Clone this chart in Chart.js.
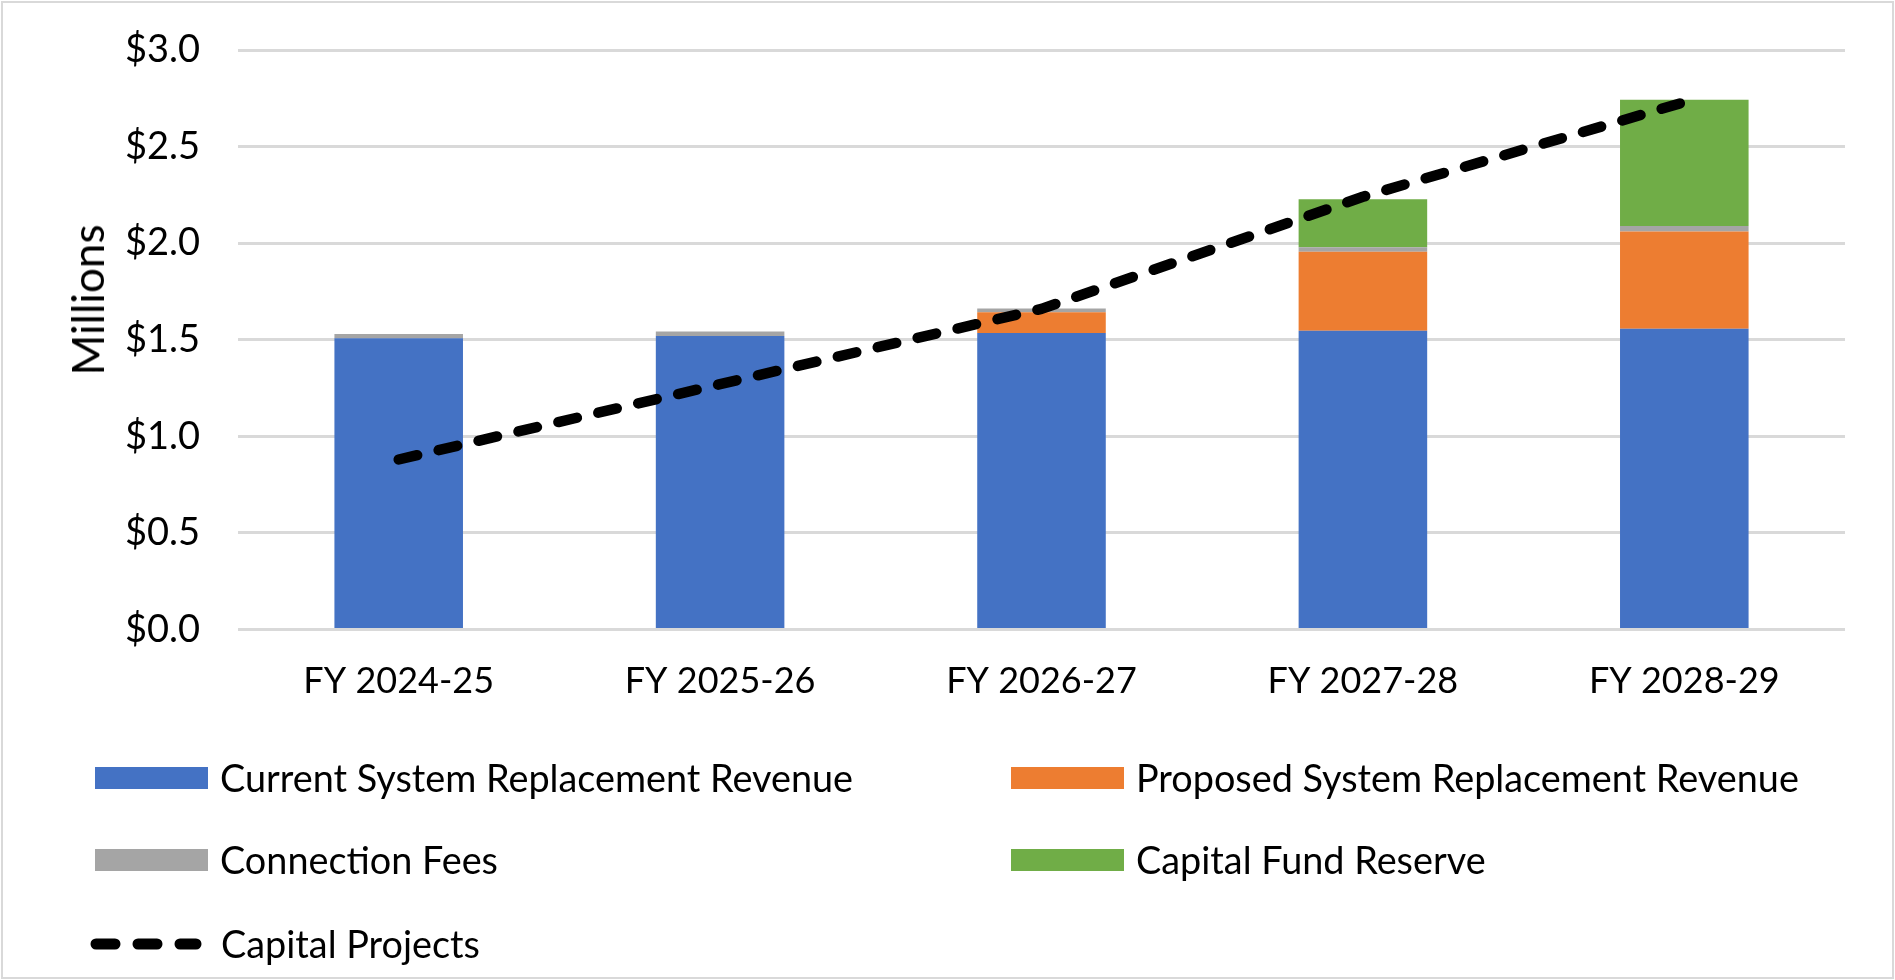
<!DOCTYPE html>
<html>
<head>
<meta charset="utf-8">
<script src="https://cdn.jsdelivr.net/npm/chart.js@4.4.1/dist/chart.umd.min.js"></script>
<style>
  html, body { margin: 0; padding: 0; background: #fff; }
  #wrap { position: relative; width: 1895px; height: 980px; overflow: hidden; font-family: Lato, "Open Sans", sans-serif; color: #000; }
  #chart { position: absolute; left: 0; top: 0; }
  #frame { position: absolute; left: 1px; top: 1px; width: 1889px; height: 974px; border: 2px solid #D9D9D9; pointer-events: none; }
  #ytitle { position: absolute; left: 87px; top: 300px; font-size: 44px; white-space: nowrap; transform: translate(-50%, -50%) rotate(-90deg); line-height: 1; }
  .lg { position: absolute; display: flex; align-items: center; font-size: 37.8px; white-space: nowrap; line-height: 1; }
  .sw { width: 113px; height: 22px; margin-right: 12px; flex: none; }
</style>
</head>
<body>
<div id="wrap">
  <canvas id="chart" width="1895" height="980"></canvas>
  <div id="ytitle">Millions</div>
  <div id="legend"></div>
  <div id="frame"></div>
</div>
<script>
// ---- data ----
const categories = ['FY 2024-25', 'FY 2025-26', 'FY 2026-27', 'FY 2027-28', 'FY 2028-29'];
const currentRevenue  = [1.508, 1.519, 1.535, 1.547, 1.557];
const proposedRevenue = [0, 0, 0.108, 0.409, 0.504];
const connectionFees  = [0.022, 0.024, 0.019, 0.023, 0.028];
const capitalReserve  = [0, 0, 0, 0.248, 0.654];
const capitalProjects = [0.88, 1.27, 1.66, 2.24, 2.73];
const yTickLabels = ['$0.0', '$0.5', '$1.0', '$1.5', '$2.0', '$2.5', '$3.0'];
const seriesNames = ['Current System Replacement Revenue', 'Proposed System Replacement Revenue', 'Connection Fees', 'Capital Fund Reserve', 'Capital Projects'];
const seriesColors = ['#4472C4', '#ED7D31', '#A5A5A5', '#70AD47', '#000000'];

const FONT = 'Lato, "Open Sans", sans-serif';

const barDefaults = { type: 'bar', stack: 'rev', order: 1, categoryPercentage: 1.0, barPercentage: 0.40, borderWidth: 0 };

const chart = new Chart(document.getElementById('chart'), {
  type: 'bar',
  data: {
    labels: categories,
    datasets: [
      { type: 'line', label: seriesNames[4], data: capitalProjects, stack: 'line', order: 0,
        borderColor: seriesColors[4], backgroundColor: seriesColors[4], borderWidth: 10.5,
        borderDash: [19, 22], borderCapStyle: 'round', borderJoinStyle: 'round',
        pointRadius: 0, pointHoverRadius: 0, tension: 0, fill: false },
      Object.assign({ label: seriesNames[0], data: currentRevenue,  backgroundColor: seriesColors[0] }, barDefaults),
      Object.assign({ label: seriesNames[1], data: proposedRevenue, backgroundColor: seriesColors[1] }, barDefaults),
      Object.assign({ label: seriesNames[2], data: connectionFees,  backgroundColor: seriesColors[2] }, barDefaults),
      Object.assign({ label: seriesNames[3], data: capitalReserve,  backgroundColor: seriesColors[3] }, barDefaults)
    ]
  },
  options: {
    responsive: false,
    animation: false,
    devicePixelRatio: 1,
    layout: { padding: { left: 0, right: 50, top: 50, bottom: 250 } },
    plugins: { legend: { display: false }, tooltip: { enabled: false } },
    scales: {
      x: {
        stacked: true,
        grid: { display: false, drawTicks: false },
        border: { display: false },
        ticks: { color: '#000', font: { family: FONT, size: 36 }, padding: 30, maxRotation: 0 },
        afterFit: (s) => { s.height = 100.5; s.paddingLeft = 0; s.paddingRight = 0; }
      },
      y: {
        stacked: true,
        min: 0, max: 3,
        grid: { color: '#D9D9D9', lineWidth: 3, drawTicks: false },
        border: { display: false },
        ticks: { stepSize: 0.5, color: '#000', font: { family: FONT, size: 38 }, padding: 38,
                 callback: (v, i) => yTickLabels[i] },
        afterFit: (s) => { s.width = 238; s.paddingTop = 0; s.paddingBottom = 0; }
      }
    }
  }
});

// ---- legend (two-column grid, built from the datasets) ----
const legendEl = document.getElementById('legend');
const legendOrder = [1, 2, 3, 4, 0];
const legendPos = [[95, 778], [1011, 778], [95, 860], [1011, 860], [90, 944]];
legendOrder.forEach((dsIndex, k) => {
  const ds = chart.data.datasets[dsIndex];
  const item = document.createElement('div');
  item.className = 'lg';
  item.style.left = legendPos[k][0] + 'px';
  item.style.top = (legendPos[k][1] - 20) + 'px';
  item.style.height = '40px';
  let sw;
  if (ds.type === 'line') {
    sw = document.createElementNS('http://www.w3.org/2000/svg', 'svg');
    sw.setAttribute('width', '118'); sw.setAttribute('height', '24');
    sw.style.marginRight = '13px'; sw.style.flex = 'none';
    const ln = document.createElementNS('http://www.w3.org/2000/svg', 'line');
    ln.setAttribute('x1', '6'); ln.setAttribute('x2', '106');
    ln.setAttribute('y1', '12'); ln.setAttribute('y2', '12');
    ln.setAttribute('stroke', ds.borderColor); ln.setAttribute('stroke-width', '11');
    ln.setAttribute('stroke-linecap', 'round'); ln.setAttribute('stroke-dasharray', '19 23');
    sw.appendChild(ln);
  } else {
    sw = document.createElement('div');
    sw.className = 'sw';
    sw.style.background = ds.backgroundColor;
  }
  const tx = document.createElement('span');
  tx.textContent = ds.label;
  item.appendChild(sw); item.appendChild(tx);
  legendEl.appendChild(item);
});
</script>
</body>
</html>
